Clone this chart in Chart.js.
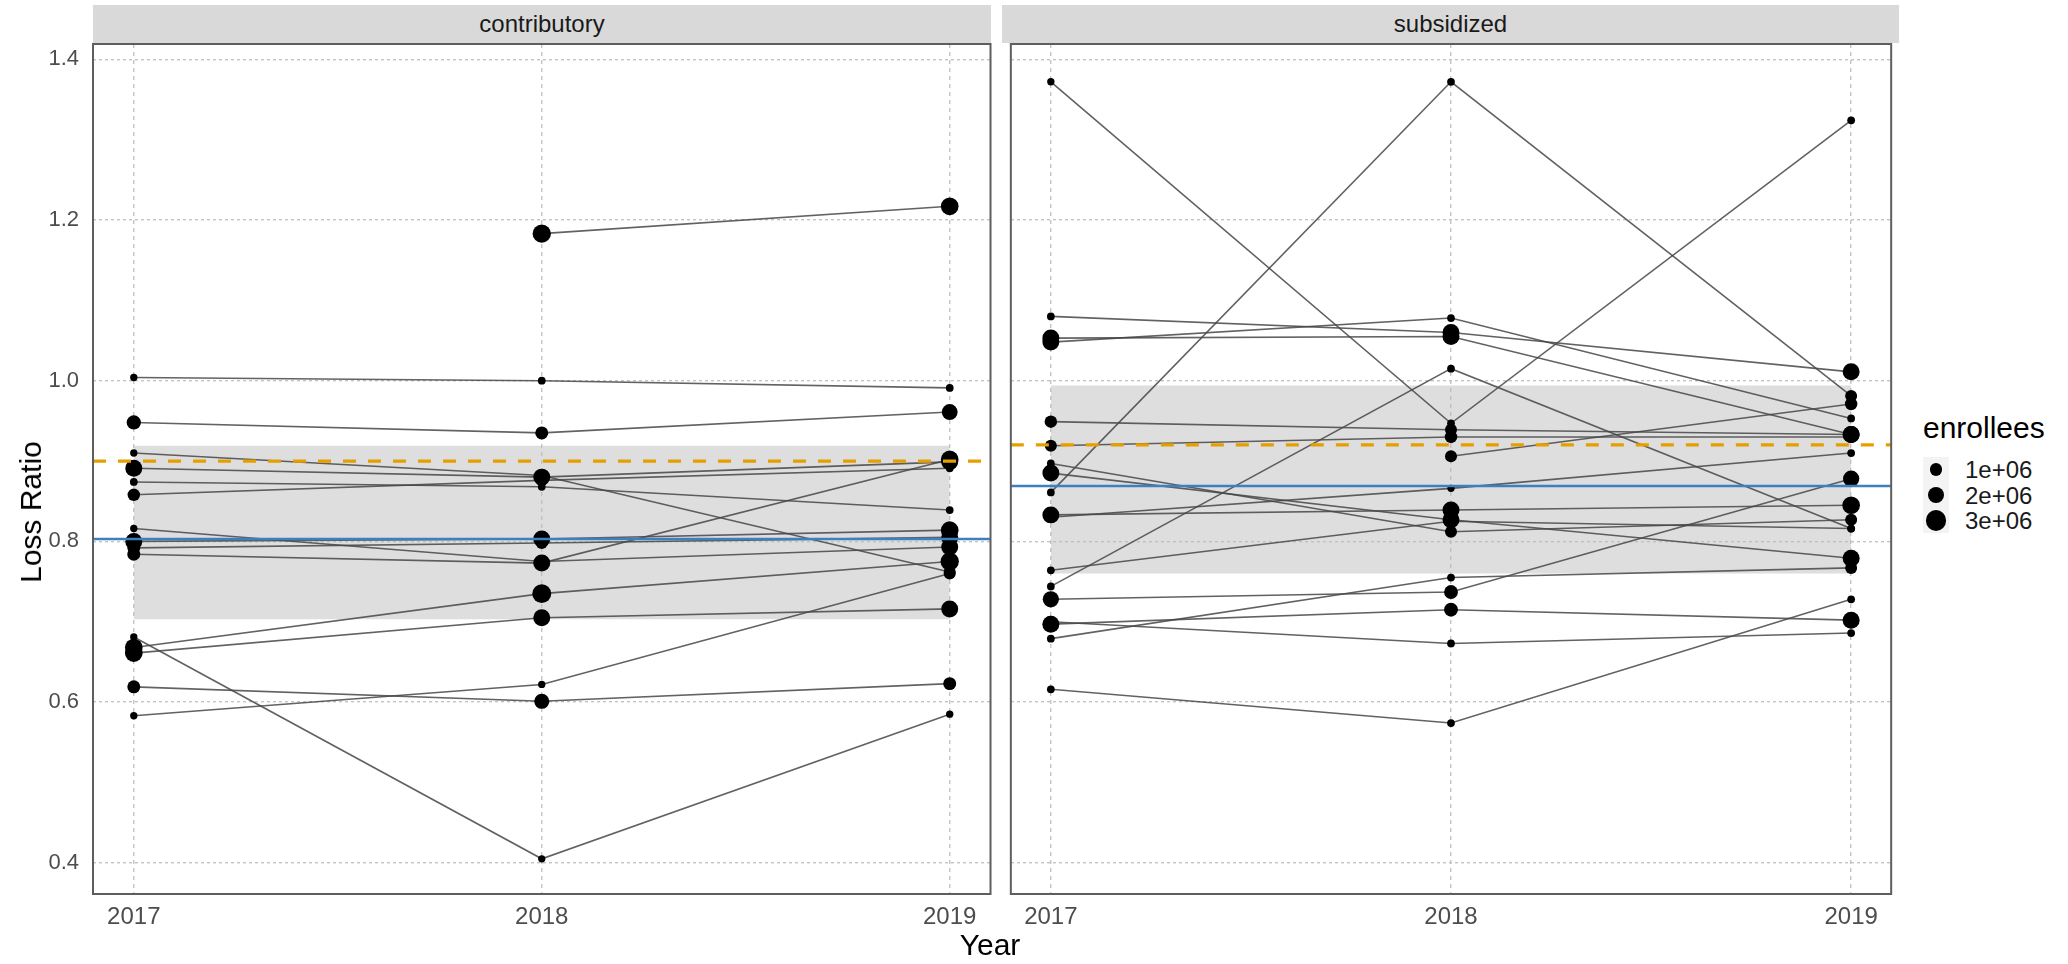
<!DOCTYPE html>
<html>
<head>
<meta charset="utf-8">
<script src="https://cdn.jsdelivr.net/npm/chart.js@4.4.1/dist/chart.umd.min.js"></script>
<style>
    html, body { margin: 0; padding: 0; background: #fff; }
    body { width: 2068px; height: 964px; position: relative; overflow: hidden; font-family: "Liberation Sans", Arial, sans-serif; }
    canvas { position: absolute; top: 0; }
    .strip { position: absolute; top: 5px; height: 38px; line-height: 38px; background: #d9d9d9; color: #1a1a1a; font-size: 24px; text-align: center; }
    .axis-title { position: absolute; color: #000; font-size: 30px; white-space: nowrap; }
    #legend { position: absolute; left: 1923px; top: 410px; }
    #legend .title { font-size: 30px; color: #000; line-height: 36px; margin-bottom: 6px; }
    #legend .keys { position: absolute; left: 0; top: 47px; width: 26px; height: 76px; background: #f3f3f3; }
    #legend .row { position: relative; height: 25.5px; }
    #legend .dot { position: absolute; background: #000; border-radius: 50%; }
    #legend .label { position: absolute; left: 42px; top: -1px; font-size: 24px; line-height: 27px; color: #1a1a1a; }
</style>
</head>
<body>
<canvas id="left-panel" width="1000" height="964" style="left:0px"></canvas>
<canvas id="right-panel" width="898" height="964" style="left:1002px"></canvas>
<div class="strip" style="left:93px;width:898px">contributory</div>
<div class="strip" style="left:1002px;width:897px">subsidized</div>
<div class="axis-title" id="y-title">Loss Ratio</div>
<div class="axis-title" id="x-title">Year</div>
<div id="legend"></div>

<script>
// years on the x axis and tick values on the y axis
const years = [2017, 2018, 2019];
const yTicks = [0.4, 0.6, 0.8, 1.0, 1.2, 1.4];

// loss ratio per insurer (one row per insurer, null = no data that year)
const contribLoss = [
    [1.004, 1.000, 0.991],
    [0.948, 0.935, 0.961],
    [0.910, 0.882, 0.762],
    [0.891, 0.880, 0.899],
    [0.784, 0.773, 0.902],
    [0.816, 0.775, 0.793],
    [0.874, 0.868, 0.839],
    [0.858, 0.876, 0.891],
    [0.800, 0.803, 0.814],
    [0.792, 0.798, 0.805],
    [0.681, 0.405, 0.585],
    [0.668, 0.735, 0.775],
    [0.661, 0.705, 0.716],
    [0.619, 0.601, 0.623],
    [0.583, 0.622, 0.760],
    [null, 1.183, 1.217]
];
// enrollees per insurer, in millions
const contribEnroll = [
    [0.05, 0.1, 0.1],
    [1.3, 1.0, 1.7],
    [0.05, 0.05, 0.8],
    [2.0, 2.0, 2.0],
    [1.0, 2.0, 2.2],
    [0.05, 0.8, 2.0],
    [0.1, 0.1, 0.1],
    [0.9, 0.8, 0.1],
    [2.0, 2.0, 2.2],
    [1.0, 0.8, 2.0],
    [0.05, 0.05, 0.05],
    [2.2, 2.6, 2.4],
    [2.2, 2.0, 2.0],
    [1.0, 1.5, 1.0],
    [0.05, 0.05, 0.8],
    [null, 2.4, 2.2]
];

const subsidLoss = [
    [1.372, 0.947, 1.324],
    [0.861, 1.372, 0.981],
    [0.744, 1.015, 0.816],
    [0.616, 0.574, 0.728],
    [1.080, 1.060, 1.011],
    [1.048, 1.078, 0.953],
    [1.053, 1.055, 0.933],
    [0.949, 0.939, 0.933],
    [0.919, 0.930, 0.930],
    [null, 0.906, 0.971],
    [0.897, 0.812, 0.827],
    [0.885, 0.827, 0.779],
    [0.833, 0.839, 0.845],
    [0.830, 0.866, 0.910],
    [0.764, 0.825, 0.816],
    [0.728, 0.737, 0.878],
    [0.697, 0.715, 0.702],
    [0.700, 0.673, 0.686],
    [0.679, 0.755, 0.767]
];
const subsidEnroll = [
    [0.05, 0.1, 0.1],
    [0.1, 0.1, 0.8],
    [0.1, 0.1, 0.1],
    [0.1, 0.1, 0.1],
    [0.1, 2.0, 2.0],
    [2.0, 0.1, 0.1],
    [2.0, 2.0, 2.0],
    [0.9, 0.8, 2.0],
    [0.8, 0.9, 0.8],
    [null, 0.8, 0.9],
    [0.1, 0.8, 0.8],
    [2.0, 2.0, 2.0],
    [2.0, 2.0, 2.2],
    [0.8, 0.05, 0.1],
    [0.1, 0.8, 0.1],
    [1.8, 1.2, 1.8],
    [2.0, 1.2, 2.0],
    [0.8, 0.1, 0.1],
    [0.1, 0.1, 0.8]
];

// reference lines and shaded band per panel [contributory, subsidized]
const meanLine = [0.803, 0.869];
const targetLine = [0.900, 0.920];
const bandLow = [0.703, 0.760];
const bandHigh = [0.919, 0.994];

// size legend
const legendValues = [1, 2, 3];
const legendLabels = ['1e+06', '2e+06', '3e+06'];

const X_MIN = 2016.9, X_MAX = 2019.1;
const Y_MIN = 0.3612, Y_MAX = 1.419;

function radiusFor(enr) {
    return Math.sqrt(12 + 30 * enr);
}

// frame around the plotting area
const panelBorder = {
    id: 'panelBorder',
    afterDraw(chart) {
        const { ctx, chartArea } = chart;
        ctx.save();
        ctx.strokeStyle = '#5e5e5e';
        ctx.lineWidth = 2;
        ctx.strokeRect(chartArea.left, chartArea.top, chartArea.right - chartArea.left, chartArea.bottom - chartArea.top);
        ctx.restore();
    }
};

function buildDatasets(loss, enroll, p) {
    const datasets = [];

    // shaded band between the 2017 and 2019 gridlines
    datasets.push({
        type: 'line',
        data: [{ x: years[0], y: bandHigh[p] }, { x: years[2], y: bandHigh[p] }],
        fill: { value: bandLow[p] },
        backgroundColor: 'rgba(190,190,190,0.5)',
        borderWidth: 0,
        pointRadius: 0,
        order: 4
    });

    // one grey line per insurer
    loss.forEach(row => {
        const pts = [];
        row.forEach((v, i) => { if (v !== null) pts.push({ x: years[i], y: v }); });
        datasets.push({
            type: 'line',
            data: pts,
            borderColor: 'rgba(70,70,70,0.85)',
            borderWidth: 1.6,
            pointRadius: 0,
            fill: false,
            order: 3
        });
    });

    // points sized by enrollees
    const points = [];
    loss.forEach((row, r) => {
        row.forEach((v, i) => {
            if (v !== null) points.push({ x: years[i], y: v, e: enroll[r][i] });
        });
    });
    datasets.push({
        type: 'scatter',
        data: points,
        backgroundColor: '#000',
        borderWidth: 0,
        pointRadius: ctx => radiusFor(ctx.raw.e),
        order: 2
    });

    // mean (solid blue) and target (dashed orange) lines
    datasets.push({
        type: 'line',
        data: [{ x: X_MIN, y: meanLine[p] }, { x: X_MAX, y: meanLine[p] }],
        borderColor: '#3f7fc0',
        borderWidth: 2.6,
        pointRadius: 0,
        fill: false,
        order: 1
    });
    datasets.push({
        type: 'line',
        data: [{ x: X_MIN, y: targetLine[p] }, { x: X_MAX, y: targetLine[p] }],
        borderColor: '#e69f00',
        borderWidth: 3.2,
        borderDash: [13, 12],
        pointRadius: 0,
        fill: false,
        order: 0
    });
    return datasets;
}

function makePanel(canvasId, loss, enroll, p, showY) {
    const ctx = document.getElementById(canvasId).getContext('2d');
    return new Chart(ctx, {
        type: 'line',
        data: { datasets: buildDatasets(loss, enroll, p) },
        plugins: [panelBorder],
        options: {
            responsive: false,
            animation: false,
            devicePixelRatio: 1,
            layout: { padding: { top: 44, right: showY ? 9 : 1, left: 0, bottom: 0 } },
            plugins: { legend: { display: false }, tooltip: { enabled: false } },
            scales: {
                x: {
                    type: 'linear',
                    min: X_MIN,
                    max: X_MAX,
                    afterBuildTicks: axis => { axis.ticks = years.map(v => ({ value: v })); },
                    afterFit: axis => { axis.height = 70; },
                    grid: { color: '#c4c4c4', lineWidth: 1.4, drawTicks: false },
                    border: { display: false, dash: [4, 4] },
                    ticks: {
                        padding: 9,
                        color: '#4d4d4d',
                        font: { family: '"Liberation Sans", Arial, sans-serif', size: 24 },
                        maxRotation: 0,
                        callback: v => String(v)
                    }
                },
                y: {
                    type: 'linear',
                    min: Y_MIN,
                    max: Y_MAX,
                    afterBuildTicks: axis => { axis.ticks = yTicks.map(v => ({ value: v })); },
                    afterFit: axis => { axis.width = showY ? 93 : 0; },
                    grid: { color: '#c4c4c4', lineWidth: 1.4, drawTicks: false },
                    border: { display: false, dash: [3, 3] },
                    ticks: {
                        display: showY,
                        padding: 14,
                        color: '#4d4d4d',
                        font: { family: '"Liberation Sans", Arial, sans-serif', size: 22 },
                        callback: v => v.toFixed(1)
                    }
                }
            }
        }
    });
}

document.addEventListener('DOMContentLoaded', () => {
    makePanel('left-panel', contribLoss, contribEnroll, 0, true);
    makePanel('right-panel', subsidLoss, subsidEnroll, 1, false);

    // axis titles
    const yTitle = document.getElementById('y-title');
    yTitle.style.left = '31px';
    yTitle.style.top = '512px';
    yTitle.style.transform = 'translate(-50%, -50%) rotate(-90deg)';
    const xTitle = document.getElementById('x-title');
    xTitle.style.left = '990px';
    xTitle.style.top = '945px';
    xTitle.style.transform = 'translate(-50%, -50%)';

    // size legend
    const legend = document.getElementById('legend');
    legend.innerHTML = '<div class="title">enrollees</div><div class="keys"></div>';
    const rows = document.createElement('div');
    rows.style.position = 'absolute';
    rows.style.top = '47px';
    legendValues.forEach((v, i) => {
        const row = document.createElement('div');
        row.className = 'row';
        const r = radiusFor(v);
        const dot = document.createElement('div');
        dot.className = 'dot';
        dot.style.width = dot.style.height = (2 * r) + 'px';
        dot.style.left = (13 - r) + 'px';
        dot.style.top = (12.5 - r) + 'px';
        const label = document.createElement('div');
        label.className = 'label';
        label.textContent = legendLabels[i];
        row.appendChild(dot);
        row.appendChild(label);
        rows.appendChild(row);
    });
    legend.appendChild(rows);
});
</script>
</body>
</html>
